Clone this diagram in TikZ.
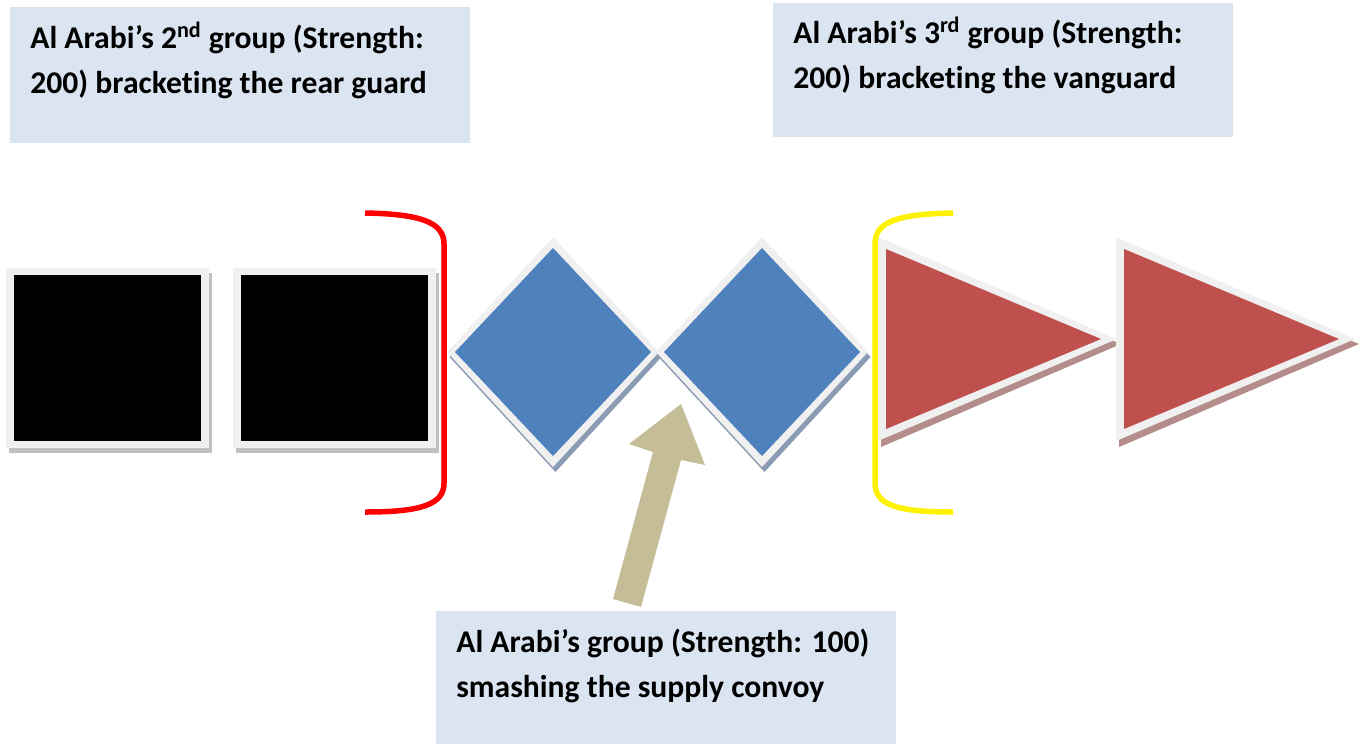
\documentclass[tikz,border=0pt]{standalone}
\usepackage{fontspec}
\setmainfont{Carlito}[Ligatures=NoCommon]

\definecolor{notebg}{RGB}{219,229,241}
\definecolor{framegray}{RGB}{240,240,240}
\definecolor{shadowgray}{RGB}{192,192,192}
\definecolor{rearblack}{RGB}{0,0,0}
\definecolor{convoyblue}{RGB}{79,129,189}
\definecolor{convoyshadow}{RGB}{140,155,180}
\definecolor{vanred}{RGB}{192,80,77}
\definecolor{vanshadow}{RGB}{180,140,138}
\definecolor{armytan}{RGB}{196,189,151}

\tikzset{
  notebox/.style={fill=notebg, inner sep=0pt, minimum width=9.2cm, anchor=north west},
  notetext/.style={anchor=base west, align=left, inner sep=0pt,
    font=\fontsize{18}{25.6}\selectfont\bfseries},
  bracketline/.style={line width=0.11cm},
}

\begin{document}
\begin{tikzpicture}[x=0.02cm, y=-0.02cm]
        \useasboundingbox (0,0) rectangle (1364,744);

        % rear guard
        \foreach \dx in {0,227} {
            \begin{scope}[shift={(\dx,0)}]
                \fill[shadowgray] (9,273) rectangle (212,453);
                \fill[framegray] (6,268) rectangle (209,448);
                \fill[rearblack] (14,275) rectangle (201,441);
            \end{scope}
        }

        % supply convoy
        \foreach \cx in {553,762} {
            \begin{scope}[shift={(\cx,352)}]
                \fill[convoyshadow] (2.5,-110) -- (108.5,5) -- (2.5,120) -- (-103.5,5) -- cycle;
                \fill[framegray] (0,-115) -- (106,0) -- (0,115) -- (-106,0) -- cycle;
                \fill[convoyblue] (0,-104) -- (98,0) -- (0,104) -- (-98,0) -- cycle;
            \end{scope}
        }

        % vanguard
        \foreach \dx in {0,238} {
            \begin{scope}[shift={(\dx,0)}]
                \fill[vanshadow] (881,243) -- (1121,344) -- (881,447) -- cycle;
                \fill[framegray] (878,237) -- (1117,339) -- (878,441) -- cycle;
                \fill[vanred] (886,249) -- (1101,339) -- (886,429) -- cycle;
            \end{scope}
        }

        % brackets
        \draw[bracketline, red] (365,213) .. controls (420,214) and (444,222) .. (444,244)
            -- (444,483) .. controls (444,505) and (420,512) .. (365,512);
        \draw[bracketline, yellow] (953,213) .. controls (897,214) and (875,222) .. (875,244)
            -- (875,483) .. controls (875,505) and (897,512) .. (953,512);

        % notes
        \node[notebox, minimum height=2.72cm] (rearnote) at (10,7) {};
        \node[notebox, minimum height=2.68cm] (vannote) at (773,3) {};
        \node[notebox, minimum height=2.66cm] (convoynote) at (436,611) {};

        \node[notetext] (reartext) at ([shift={(20,86)}]rearnote.north west)
            {Al Arabi’s 2\textsuperscript{nd} group (Strength:\\200) bracketing the rear guard};
        \node[notetext] (vantext) at ([shift={(20,85)}]vannote.north west)
            {Al Arabi’s 3\textsuperscript{rd} group (Strength:\\200) bracketing the vanguard};
        \node[notetext] (convoytext) at ([shift={(20,86)}]convoynote.north west)
            {Al Arabi’s group (Strength: 100)\\smashing the supply convoy};

        % attack on the convoy
        \fill[armytan] (613,599) -- (653,452) -- (629,444) -- (681,404)
            -- (705,465) -- (681,460) -- (641,607) -- cycle;
    \end{tikzpicture}
\end{document}
